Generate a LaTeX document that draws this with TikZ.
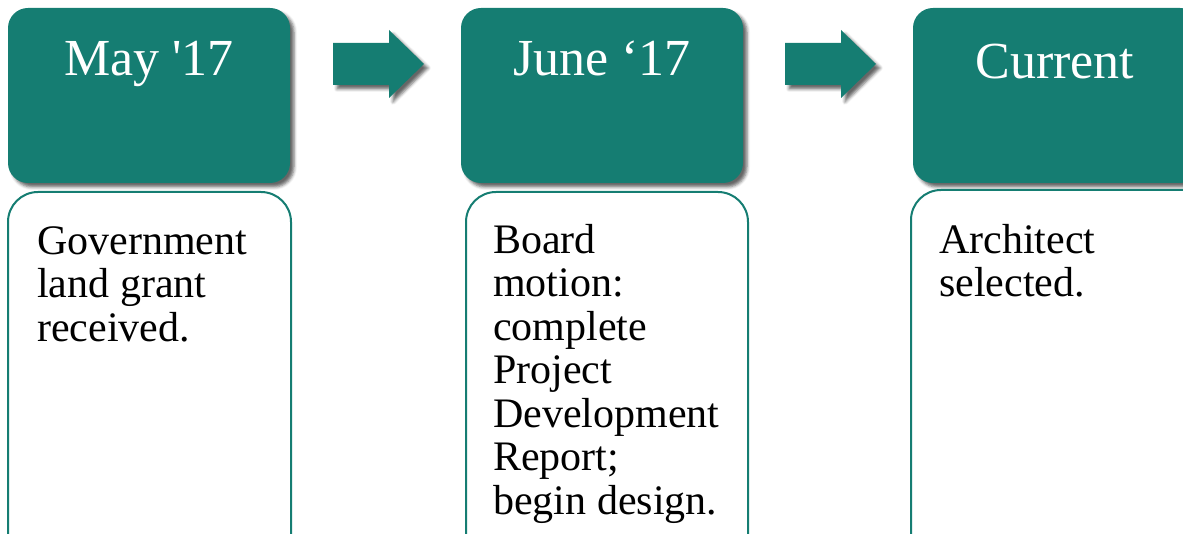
\documentclass[tikz,border=0pt]{standalone}
\usepackage{fontspec}
\setmainfont{Liberation Serif}
\usetikzlibrary{shadows.blur}
\definecolor{tealA}{RGB}{21,125,114}
\tikzset{
  shd/.style={blur shadow={shadow xshift=4pt, shadow yshift=-4pt, shadow blur radius=3pt, shadow opacity=60}},
  headbox/.style={fill=tealA, rounded corners=20pt, shd},
  bodybox/.style={draw=tealA, line width=2pt, fill=white, rounded corners=30pt},
  headtxt/.style={text=white, font=\fontsize{52}{60}\selectfont, anchor=base, inner sep=0pt},
  bodytxt/.style={text=black, font=\fontsize{42}{43.5}\selectfont, anchor=north west, inner sep=0pt, align=left},
  arrowshape/.style={fill=tealA, shd}
}
\begin{document}
\begin{tikzpicture}[x=1pt,y=-1pt]
\useasboundingbox (0,0) rectangle (1183,534);
\clip (0,0) rectangle (1183,534);
% header boxes
\path[headbox] (8,8) rectangle (290,183);
\path[headbox] (461,8) rectangle (743,183);
\path[headbox] (913,8) rectangle (1200,183);
% body boxes
\path[bodybox] (8,192) rectangle (291,580);
\path[bodybox] (466,192) rectangle (748,580);
\path[bodybox] (911,190) rectangle (1220,580);
% arrows
\path[arrowshape] (333,43) -- (389,43) -- (389,30) -- (424,64) -- (389,98) -- (389,85) -- (333,85) -- cycle;
\path[arrowshape] (785,43) -- (841,43) -- (841,30) -- (876,64) -- (841,98) -- (841,85) -- (785,85) -- cycle;
% header texts
\node[headtxt] (h1) at (149,76) {May \textquotesingle17};
\node[headtxt] (h2) at (602,76) {June ‘17};
\node[headtxt] (h3) at (1055,79) {Current};
% body texts
\node[bodytxt] (b1) at (37,226) {Government\\ land grant\\ received.};
\node[bodytxt] (b2) at (493,224) {Board\\ motion:\\ complete\\ Project\\ Development\\ Report;\\ begin design.};
\node[bodytxt] (b3) at (939,224) {Architect\\ selected.};
\end{tikzpicture}
\end{document}
